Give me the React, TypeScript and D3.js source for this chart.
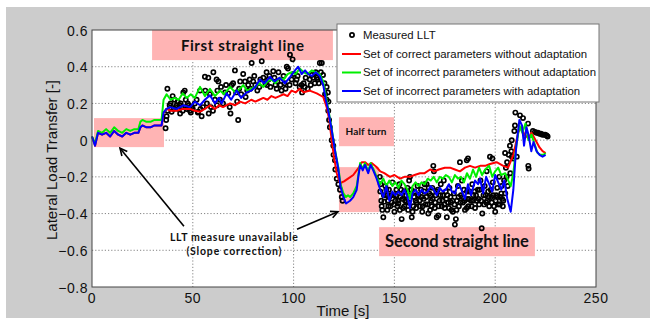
import React from 'react';
import * as d3 from 'd3';

// --- DATA ---
const xTicks = [0, 50, 100, 150, 200, 250];
const yTicks = [-0.8, -0.6, -0.4, -0.2, 0, 0.2, 0.4, 0.6];
const legendLabels = [
  'Measured LLT',
  'Set of correct parameters without adaptation',
  'Set of incorrect parameters without adaptation',
  'Set of incorrect parameters with adaptation',
];
const lineColors = ['#ff0000', '#00ee00', '#0000ff'];

// measured lateral load transfer [time s, LLT]
const measuredLLT: [number, number][] = [
  [36.5, 0.065], [36.8, 0.11], [37, 0.13], [37.4, 0.28], [37.5, 0.16], [38.5, 0.19], [39, 0.2], [39.5, 0.155],
  [40, 0.24], [40.5, 0.17], [41, 0.22], [41.5, 0.18], [42, 0.19], [42.5, 0.21], [43, 0.17], [43.5, 0.19],
  [43.7, 0.145], [44, 0.2], [44.5, 0.18], [45, 0.16], [45.3, 0.26], [46, 0.27], [46.3, 0.18], [46.5, 0.22],
  [47, 0.17], [47.5, 0.2], [48, 0.19], [48.6, 0.16], [49, 0.15], [49.5, 0.18], [50, 0.17], [51, 0.2],
  [51.9, 0.22], [52.5, 0.15], [52.7, 0.155], [53.6, 0.27], [53.8, 0.17], [54.4, 0.13], [55, 0.18], [56, 0.345],
  [56.2, 0.27], [57, 0.2], [57.7, 0.34], [57.9, 0.145], [58.5, 0.25], [59, 0.18], [60, 0.16], [60.2, 0.37],
  [61, 0.22], [61.8, 0.33], [62, 0.19], [62.2, 0.27], [62.7, 0.32], [63.5, 0.22], [64, 0.29], [65, 0.2], [66, 0.26],
  [66.5, 0.3], [67.6, 0.255], [68.3, 0.18], [68.7, 0.145], [69.3, 0.3], [70, 0.31], [70.9, 0.38], [71.5, 0.26], [72, 0.21],
  [72.5, 0.11], [73, 0.28], [73.5, 0.32], [74, 0.25], [75, 0.36], [75.9, 0.32], [76.2, 0.235], [77, 0.27], [77.5, 0.3],
  [78.2, 0.33], [78.6, 0.28], [79.2, 0.42], [80, 0.32], [80.5, 0.35], [81, 0.3], [82, 0.27], [83, 0.29], [83.5, 0.33],
  [84.2, 0.43], [85, 0.34], [86, 0.31], [86.6, 0.37], [86.8, 0.3], [87.5, 0.33], [88, 0.35], [88.5, 0.29], [89.9, 0.375],
  [90.5, 0.34], [91, 0.3], [91.6, 0.28], [92, 0.32], [92.5, 0.37], [93.5, 0.3], [94, 0.27], [95, 0.35], [95.5, 0.31],
  [96, 0.28], [96.6, 0.4], [97.2, 0.39], [98, 0.3], [98.2, 0.465], [99.5, 0.44], [99, 0.33], [100, 0.36], [101, 0.31],
  [101.5, 0.33], [102, 0.35], [103, 0.29], [104, 0.3], [104.2, 0.26], [105, 0.31], [105.5, 0.29], [106, 0.34], [107, 0.28],
  [108, 0.33], [108.5, 0.3], [109, 0.355], [109.8, 0.34], [110.5, 0.31], [111, 0.37], [111.5, 0.34], [112, 0.33],
  [112.5, 0.31], [113, 0.42], [113.5, 0.37], [114, 0.42], [114.6, 0.355], [115.3, 0.31], [115.6, 0.25],
  [116.4, 0.29], [116.4, 0.22], [117, 0.26], [117.3, 0.21], [117.2, 0.16], [117.6, 0.11], [118, 0.07], [118.9, 0.0],
  [119.7, -0.03], [119.8, -0.08], [120.5, -0.11], [120.7, -0.16], [121.4, -0.21], [122.2, -0.24], [123, -0.27], [123.9, -0.31],
  [124.3, -0.33],
  [142.8, -0.2], [143, -0.28], [143.2, -0.24], [143.5, -0.33], [143.7, -0.36], [144, -0.38], [144.5, -0.42], [144.8, -0.3],
  [145, -0.335], [145.5, -0.25], [145.8, -0.3], [146, -0.27], [146.5, -0.38], [146.8, -0.33], [147, -0.36], [147.3, -0.27],
  [147.5, -0.31], [148, -0.36], [148.3, -0.3], [148.6, -0.34], [149, -0.23], [149.5, -0.3], [149.8, -0.35], [150, -0.39],
  [150.5, -0.33], [150.8, -0.3], [151, -0.27], [151.5, -0.36], [151.8, -0.33], [152, -0.345], [152.5, -0.24], [152.7, -0.38],
  [153, -0.31], [153.3, -0.27], [153.6, -0.43], [154, -0.32], [154.3, -0.37], [154.8, -0.28], [155, -0.36], [155.3, -0.33],
  [155.8, -0.3], [156, -0.335], [156.5, -0.26], [156.8, -0.38], [157, -0.34], [157.3, -0.22], [157.7, -0.2], [158, -0.3],
  [158.3, -0.27], [158.6, -0.42], [159, -0.39], [159.4, -0.36], [159.8, -0.31], [160, -0.28], [160.5, -0.33], [160.8, -0.37],
  [161, -0.34], [161.5, -0.25], [161.8, -0.3], [162, -0.3], [162.4, -0.33], [162.7, -0.36], [163.2, -0.27], [163.5, -0.31],
  [163.8, -0.39], [164, -0.36], [164.5, -0.32], [164.8, -0.28], [165, -0.24], [165.5, -0.35], [165.8, -0.31], [166, -0.24],
  [166.5, -0.35], [166.8, -0.4], [167, -0.26], [167.3, -0.29], [167.7, -0.38], [168, -0.3], [168.2, -0.33], [168.5, -0.36],
  [168.8, -0.26], [169, -0.32], [169.3, -0.14], [169.6, -0.17], [170, -0.37], [170.2, -0.34], [170.5, -0.3], [170.8, -0.28],
  [171, -0.42], [171.5, -0.27], [171.8, -0.41], [172, -0.36], [172.4, -0.33], [172.8, -0.3], [173, -0.24], [173.5, -0.36],
  [173.8, -0.33], [174, -0.3], [174.5, -0.22], [174.8, -0.35], [175, -0.37], [175.5, -0.28], [175.8, -0.32], [176, -0.42],
  [176.3, -0.3], [176.7, -0.34], [177, -0.37], [177.3, -0.26], [177.8, -0.31], [178, -0.34], [178.3, -0.38], [178.8, -0.33],
  [179, -0.39], [179.5, -0.29], [179.8, -0.35], [180, -0.46], [180.5, -0.43], [180.8, -0.38], [181, -0.33], [181.5, -0.25],
  [181.8, -0.31], [182, -0.36], [182.5, -0.12], [182.8, -0.34], [183, -0.3], [183.5, -0.22], [183.8, -0.31], [184, -0.34],
  [184.5, -0.27], [184.8, -0.33], [185, -0.38], [185.9, -0.37], [186, -0.28], [186.1, -0.32], [185.9, -0.11], [186.5, -0.1],
  [186.7, -0.36], [187, -0.32], [187.3, -0.28], [188, -0.33], [188.3, -0.36], [188.6, -0.24], [189, -0.33], [189.2, -0.3],
  [189.8, -0.28], [190, -0.37], [190.5, -0.3], [190.8, -0.33], [191.4, -0.27], [191.8, -0.32], [192, -0.35], [192.3, -0.27],
  [192.7, -0.22], [193, -0.33], [193.3, -0.48], [193.6, -0.4], [194.2, -0.3], [194.5, -0.35], [194.8, -0.25], [195.2, -0.3],
  [195.5, -0.34], [195.8, -0.17], [196, -0.33], [196.5, -0.28], [196.8, -0.31], [197, -0.36], [197.4, -0.09], [197.8, -0.27],
  [198, -0.31], [198.3, -0.34], [198.6, -0.1], [198.8, -0.23], [199, -0.3], [199.4, -0.36], [200, -0.39], [200.2, -0.33],
  [200.5, -0.3], [201, -0.26], [201.2, -0.31], [201.5, -0.35], [202, -0.2], [202.3, -0.35], [202.6, -0.31], [203, -0.29],
  [203.2, -0.25], [203.5, -0.32], [203.8, -0.36], [204, -0.33], [204.4, -0.22], [204.9, -0.07], [205, -0.29], [205.3, -0.15],
  [205.7, -0.2], [205.9, -0.12], [206.2, -0.25], [206.7, -0.08], [207.3, -0.03], [207.5, -0.18], [208, -0.06], [208.2, 0.0],
  [208.3, -0.09], [209, -0.1], [209.5, 0.05], [209.8, 0.08], [210, 0.15], [210.7, -0.09], [212.3, 0.135], [213.8, 0.12],
  [216.3, 0.09], [216.4, -0.14], [216.6, -0.155], [218.7, 0.05], [219.7, 0.045], [220.5, 0.04], [221.2, 0.04], [222, 0.035],
  [222.7, 0.035], [223.4, 0.03], [224, 0.03], [224.8, 0.03], [225.5, 0.025], [226, 0.02],
];

const correctNoAdapt: [number, number][] = [
  [0, 0.02], [1.5, -0.03], [3, 0.04], [5, 0.03], [7, 0.04], [9, 0.02], [11, 0.05], [13, 0.03], [15, 0.02], [17, 0.04],
  [19, 0.03], [21, 0.04], [23, 0.04], [24, 0.07], [25, 0.08], [27, 0.07], [29, 0.07], [31, 0.08], [33, 0.08], [34.5, 0.08],
  [35.5, 0.15], [37, 0.17], [39, 0.16], [42, 0.16], [45, 0.17], [48.6, 0.17], [51, 0.16], [53.6, 0.155], [56, 0.17], [58.5, 0.19],
  [61, 0.17], [63, 0.19], [65, 0.18], [68.5, 0.2], [71, 0.19], [73.4, 0.21], [76, 0.2], [79, 0.22], [81, 0.21], [83, 0.22],
  [85, 0.23], [87, 0.22], [89, 0.24], [91, 0.23], [93, 0.24], [95, 0.25], [97, 0.24], [99, 0.27], [101, 0.26], [103, 0.28],
  [105, 0.26], [108, 0.27], [111.5, 0.255], [114.7, 0.235], [116.4, 0.18], [117.7, 0.11], [118.9, 0.0], [120, -0.09], [121.4, -0.18],
  [123, -0.235], [125, -0.225], [127, -0.21], [129.6, -0.19], [131.3, -0.165], [132.6, -0.145], [133.8, -0.12], [135.5, -0.12],
  [137, -0.135], [138.7, -0.125], [141, -0.145], [143, -0.17], [145, -0.18], [147.8, -0.2], [150, -0.19], [152.8, -0.21],
  [155, -0.2], [157.7, -0.2], [160, -0.19], [162.7, -0.18], [165, -0.18], [167.7, -0.16], [170, -0.17], [172, -0.16],
  [175, -0.15], [177.6, -0.15], [180, -0.16], [182.5, -0.17], [185, -0.15], [187.5, -0.14], [190, -0.15], [192.5, -0.14],
  [195, -0.14], [197.4, -0.13], [200.7, -0.12], [204, -0.14], [206.4, -0.15], [209, -0.08], [211.5, 0.045], [213, 0.07],
  [214.5, 0.03], [216.5, 0.01], [218, 0.04], [219.5, 0.01], [222, -0.04], [223.5, -0.06], [225, -0.07],
];

const incorrectNoAdapt: [number, number][] = [
  [0, 0.02], [1.5, -0.02], [3, 0.05], [5, 0.04], [7, 0.06], [9, 0.04], [11, 0.07], [13, 0.05], [15, 0.04], [17, 0.06],
  [19, 0.05], [21, 0.06], [23, 0.06], [24, 0.1], [25, 0.11], [27, 0.1], [29, 0.1], [31, 0.11], [33, 0.11], [34.5, 0.11],
  [35.5, 0.22], [37, 0.25], [39, 0.22], [41, 0.23], [43, 0.22], [45, 0.255], [47, 0.23], [49, 0.25], [51, 0.23], [53.6, 0.29],
  [56, 0.24], [58.5, 0.28], [61, 0.24], [63.5, 0.27], [65.5, 0.25], [68.5, 0.29], [71, 0.26], [73.4, 0.28], [75, 0.3],
  [77, 0.27], [79, 0.28], [81, 0.29], [83, 0.31], [85, 0.29], [87, 0.32], [89, 0.33], [91, 0.31], [93, 0.34], [95, 0.33],
  [97, 0.36], [99, 0.37], [101, 0.36], [103, 0.39], [105, 0.37], [107, 0.36], [109, 0.38], [111, 0.37], [113, 0.36],
  [114.7, 0.32], [116, 0.24], [117.2, 0.17], [118.9, 0.06], [120.5, -0.05], [122.2, -0.15], [123.3, -0.24], [124.7, -0.29],
  [126, -0.31], [127, -0.3], [128, -0.31], [129.6, -0.29], [131.3, -0.25], [132.1, -0.19], [133, -0.125], [134.3, -0.155],
  [135.4, -0.125], [137, -0.17], [138.2, -0.125], [139.5, -0.155], [141.2, -0.2], [143, -0.24], [144.5, -0.21], [146, -0.25],
  [147.5, -0.22], [149, -0.25], [150.5, -0.23], [152, -0.26], [153.5, -0.22], [155, -0.24], [156.5, -0.27], [157.7, -0.32],
  [159, -0.25], [160.5, -0.23], [162, -0.25], [163.5, -0.23], [165, -0.24], [166.5, -0.21], [168, -0.22], [169.5, -0.2],
  [171, -0.23], [172.5, -0.2], [174, -0.21], [175.5, -0.19], [177, -0.2], [178.5, -0.23], [180, -0.19], [181.5, -0.21],
  [183, -0.2], [184.5, -0.23], [186, -0.18], [187.5, -0.21], [189, -0.16], [190.5, -0.2], [192, -0.15], [193.5, -0.19],
  [195, -0.16], [197, -0.14], [198.5, -0.2], [200, -0.17], [201.5, -0.15], [203, -0.19], [205, -0.18], [206.5, -0.22],
  [207.7, -0.25], [209, -0.18], [210.5, -0.03], [212, 0.08], [213.5, 0.04], [215, 0.09], [216.5, 0.0], [218, 0.03],
  [219.5, -0.02], [221, -0.07], [222.5, -0.08], [224, -0.08], [225, -0.07],
];

const incorrectAdapt: [number, number][] = [
  [0, 0.02], [1.5, -0.03], [3, 0.04], [5, 0.03], [7, 0.04], [9, 0.02], [11, 0.05], [13, 0.03], [15, 0.02], [17, 0.04],
  [19, 0.03], [21, 0.04], [23, 0.04], [24, 0.07], [25, 0.08], [27, 0.07], [29, 0.07], [31, 0.08], [33, 0.08], [34.5, 0.08],
  [35.5, 0.15], [37, 0.17], [38.7, 0.18], [42, 0.17], [45.3, 0.19], [48.6, 0.18], [51, 0.21], [53.6, 0.19], [56, 0.22],
  [58.5, 0.245], [61, 0.2], [63, 0.23], [64.3, 0.2], [66.8, 0.255], [69, 0.22], [71.8, 0.27], [74, 0.23], [76.7, 0.26],
  [79, 0.27], [81, 0.29], [83.3, 0.33], [85.5, 0.31], [88.3, 0.345], [90.5, 0.32], [93, 0.34], [95.7, 0.31], [98, 0.34],
  [100.7, 0.38], [102.3, 0.4], [104, 0.36], [105.7, 0.38], [107.3, 0.36], [109, 0.35], [111, 0.37], [113, 0.35],
  [114.7, 0.3], [116, 0.22], [117.2, 0.16], [118.9, 0.055], [120.5, -0.055], [122.2, -0.16], [123.3, -0.255], [124.7, -0.31],
  [126, -0.345], [128, -0.33], [129.6, -0.31], [131.3, -0.27], [132.1, -0.2], [133, -0.135], [134.3, -0.165], [135.4, -0.135],
  [137, -0.18], [138.2, -0.135], [139.5, -0.165], [141.2, -0.21], [143, -0.27], [144.5, -0.31], [146, -0.25], [147.5, -0.33],
  [149, -0.28], [150.5, -0.3], [152, -0.28], [153.5, -0.3], [155, -0.27], [156.5, -0.31], [157.7, -0.37], [159, -0.29],
  [160.5, -0.27], [162, -0.3], [163.5, -0.27], [165, -0.29], [166.5, -0.28], [168, -0.25], [169.5, -0.27], [171, -0.3],
  [172.5, -0.26], [174, -0.28], [175.5, -0.27], [177, -0.24], [178.5, -0.28], [180, -0.29], [181.5, -0.24], [182.5, -0.25],
  [185, -0.32], [186.5, -0.24], [188, -0.3], [190, -0.22], [191.5, -0.24], [192.5, -0.21], [194, -0.29], [195.5, -0.2],
  [197, -0.24], [198.5, -0.28], [200, -0.19], [201.5, -0.23], [203, -0.27], [204.5, -0.22], [206, -0.32], [207.7, -0.39],
  [209, -0.27], [210.4, -0.04], [212, 0.11], [213.3, 0.08], [214.3, -0.03], [215.5, 0.07], [216.5, 0.03], [217.9, -0.06],
  [219, -0.01], [220.5, -0.06], [222, -0.08], [223.5, -0.09], [225, -0.08],
];

// annotation boxes in data units: [t0, t1, vTop, vBottom]
const pinkBoxes: [number, number, number, number][] = [
  [29.8, 119.5, 0.6, 0.436],
  [1, 35.7, 0.12, -0.038],
  [122.5, 149.8, 0.125, -0.033],
  [122.5, 142.4, -0.147, -0.392],
  [142.4, 219.7, -0.474, -0.632],
];

const W = 652;
const H = 322;

const x = d3.scaleLinear().domain([0, 250]).range([92, 596]);
const y = d3.scaleLinear().domain([-0.8, 0.6]).range([287, 30]);
const line = d3.line<[number, number]>().x(d => x(d[0])).y(d => y(d[1]));

const fmt = (v: number) => (Math.abs(v) < 1e-9 ? '0' : d3.format('.1f')(v));

const Arrow = ({ from, to }: { from: [number, number]; to: [number, number] }) => {
  const x1 = x(from[0]), y1 = y(from[1]), x2 = x(to[0]), y2 = y(to[1]);
  const a = Math.atan2(y2 - y1, x2 - x1);
  const L = 8, s = 0.45;
  const h1 = [x2 - L * Math.cos(a - s), y2 - L * Math.sin(a - s)];
  const h2 = [x2 - L * Math.cos(a + s), y2 - L * Math.sin(a + s)];
  return (
    <g stroke="#000" strokeWidth={1.6} fill="none">
      <line x1={x1} y1={y1} x2={x2} y2={y2} />
      <path d={`M${h1[0]},${h1[1]}L${x2},${y2}L${h2[0]},${h2[1]}`} />
    </g>
  );
};

export default function App() {
  const [x0, x1] = x.range();
  const [y0, y1] = y.range();
  const sans = '"Liberation Sans", Arial, sans-serif';
  const bold = 'Lato, "Open Sans", sans-serif';

  return (
    <svg width={W} height={H} style={{ position: 'absolute', left: 0, top: 0, background: '#fff' }}>
      <rect x={6} y={7} width={644} height={311} fill="#cccccc" />
      <rect x={x0} y={y1} width={x1 - x0} height={y0 - y1} fill="#fff" />

      {/* grid */}
      <g stroke="#666" strokeWidth={0.8} strokeDasharray="1.2,2">
        {xTicks.slice(1, -1).map(t => (
          <line key={'gx' + t} x1={x(t)} x2={x(t)} y1={y1} y2={y0} />
        ))}
        {yTicks.slice(1, -1).map(t => (
          <line key={'gy' + t} x1={x0} x2={x1} y1={y(t)} y2={y(t)} />
        ))}
      </g>

      {/* pink annotation boxes */}
      {pinkBoxes.map((b, i) => (
        <rect key={'pb' + i} x={x(b[0])} y={y(b[2])} width={x(b[1]) - x(b[0])} height={y(b[3]) - y(b[2])} fill="#ffb4b4" />
      ))}

      {/* measured */}
      <g fill="none" stroke="#000" strokeWidth={1.7}>
        {measuredLLT.map((d, i) => (
          <circle key={'m' + i} cx={x(d[0])} cy={y(d[1])} r={2.1} />
        ))}
      </g>

      {/* simulated */}
      {[correctNoAdapt, incorrectNoAdapt, incorrectAdapt].map((s, i) => (
        <path key={'l' + i} d={line(s) || ''} fill="none" stroke={lineColors[i]} strokeWidth={2} strokeLinejoin="round" />
      ))}

      {/* axes box */}
      <rect x={x0} y={y1} width={x1 - x0} height={y0 - y1} fill="none" stroke="#444" strokeWidth={1} />

      {/* tick labels */}
      <g fontFamily={sans} fontSize={14} fill="#111" letterSpacing={0.5}>
        {yTicks.map(t => (
          <text key={'ty' + t} x={x0 - 4} y={y(t) + 5.5} textAnchor="end">{fmt(t)}</text>
        ))}
        {xTicks.map(t => (
          <text key={'tx' + t} x={x(t)} y={303} textAnchor="middle">{t}</text>
        ))}
      </g>
      <text x={343} y={316} fontFamily={sans} fontSize={15} textAnchor="middle" fill="#111">Time [s]</text>
      <text transform="translate(57,160) rotate(-90)" fontFamily={sans} fontSize={15} textAnchor="middle" fill="#111">
        Lateral Load Transfer [-]
      </text>

      {/* annotations */}
      <g fontFamily={bold} fontWeight={700} fill="#111" textAnchor="middle">
        <text x={x(74.6)} y={y(0.485)} fontSize={15} textLength={123}>First straight line</text>
        <text x={x(135.9)} y={y(0.027)} fontSize={10} textLength={41}>Half turn</text>
        <text x={x(181)} y={y(-0.583)} fontSize={16.5} textLength={144}>Second straight line</text>
        <text x={x(70.4)} y={y(-0.55)} fontSize={10.5} textLength={128}>LLT measure unavailable</text>
        <text x={x(70.4)} y={y(-0.626)} fontSize={10.5} textLength={95}>(Slope correction)</text>
      </g>
      <Arrow from={[45.6, -0.469]} to={[13.9, -0.044]} />
      <Arrow from={[101.7, -0.485]} to={[122, -0.39]} />

      {/* legend */}
      <g>
        <rect x={337} y={24} width={262} height={78} fill="#fff" stroke="#777" strokeWidth={1} />
        <circle cx={352} cy={35} r={2.1} fill="none" stroke="#000" strokeWidth={1.7} />
        {lineColors.map((c, i) => (
          <line key={'lg' + i} x1={342} x2={361} y1={54 + i * 18.5} y2={54 + i * 18.5} stroke={c} strokeWidth={2} />
        ))}
        <g fontFamily={sans} fontSize={11.4} fill="#111">
          {legendLabels.map((l, i) => (
            <text key={'lt' + i} x={363} y={39 + i * 18.7}>{l}</text>
          ))}
        </g>
      </g>
    </svg>
  );
}
